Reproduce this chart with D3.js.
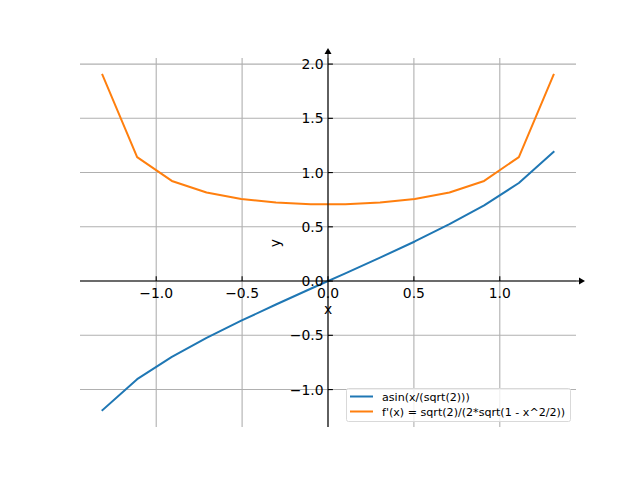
<!DOCTYPE html>
<html>
<head>
<meta charset="utf-8">
<script src="https://cdn.jsdelivr.net/npm/d3@7"></script>
<style>
body{margin:0;background:#fff;}
svg{display:block;font-family:"DejaVu Sans",sans-serif;}
</style>
</head>
<body>
<svg id="chart" width="640" height="480"></svg>
<script>
const xValues = [-1.313, -1.111, -0.909, -0.707, -0.505, -0.303, -0.101, 0.101, 0.303, 0.505, 0.707, 0.909, 1.111, 1.313];
const asinValues = [-1.190, -0.904, -0.698, -0.524, -0.365, -0.216, -0.071, 0.071, 0.216, 0.365, 0.524, 0.698, 0.904, 1.190];
const derivValues = [1.901, 1.143, 0.923, 0.816, 0.757, 0.724, 0.709, 0.709, 0.724, 0.757, 0.816, 0.923, 1.143, 1.901];
const xTicks = [-1.0, -0.5, 0.0, 0.5, 1.0];
const yTicks = [-1.0, -0.5, 0.0, 0.5, 1.0, 1.5, 2.0];
const seriesNames = ["asin(x/(sqrt(2)))", "f'(x) = sqrt(2)/(2*sqrt(1 - x^2/2))"];
const seriesColors = ["#1f77b4", "#ff7f0e"];

const svg = d3.select("#chart");
const L = 80, R = 576, T = 58, B = 427;
const x = d3.scaleLinear().domain([-1.4436, 1.4436]).range([L, R]);
const y = d3.scaleLinear().domain([-1.345, 2.056]).range([B, T]);
const fmt = v => (v < 0 ? "\u2212" : "") + Math.abs(v).toFixed(1);

// grid
const grid = svg.append("g");
grid.selectAll(".gx").data(xTicks).enter().append("line")
  .attr("x1", d => x(d)).attr("x2", d => x(d)).attr("y1", T).attr("y2", B)
  .attr("stroke", "#b0b0b0").attr("stroke-width", 1.1);
grid.selectAll(".gy").data(yTicks).enter().append("line")
  .attr("y1", d => y(d)).attr("y2", d => y(d)).attr("x1", L).attr("x2", R)
  .attr("stroke", "#b0b0b0").attr("stroke-width", 1.1);

// lines
const line = d3.line().x(d => x(d[0])).y(d => y(d[1]));
[asinValues, derivValues].forEach((vals, i) => {
  svg.append("path")
    .datum(xValues.map((xv, j) => [xv, vals[j]]))
    .attr("d", line).attr("fill", "none")
    .attr("stroke", seriesColors[i]).attr("stroke-width", 2)
    .attr("stroke-linejoin", "round").attr("stroke-linecap", "square");
});

// spines through zero
const x0 = x(0), y0 = y(0);
svg.append("line").attr("x1", L).attr("x2", R + 6).attr("y1", y0).attr("y2", y0)
  .attr("stroke", "#000").attr("stroke-width", 1.1);
svg.append("line").attr("x1", x0).attr("x2", x0).attr("y1", B).attr("y2", T - 6)
  .attr("stroke", "#000").attr("stroke-width", 1.1);
// arrows
svg.append("path").attr("d", `M${R + 9},${y0} L${R + 3},${y0 - 3.5} L${R + 3},${y0 + 3.5} Z`).attr("fill", "#000");
svg.append("path").attr("d", `M${x0},${T - 10} L${x0 - 3.5},${T - 4} L${x0 + 3.5},${T - 4} Z`).attr("fill", "#000");

// ticks (direction in)
svg.selectAll(".tx").data(xTicks).enter().append("line")
  .attr("x1", d => x(d)).attr("x2", d => x(d)).attr("y1", y0).attr("y2", y0 - 4.9)
  .attr("stroke", "#000").attr("stroke-width", 1.1);
svg.selectAll(".ty").data(yTicks).enter().append("line")
  .attr("y1", d => y(d)).attr("y2", d => y(d)).attr("x1", x0).attr("x2", x0 + 4.9)
  .attr("stroke", "#000").attr("stroke-width", 1.1);

svg.selectAll(".lx").data(xTicks).enter().append("text")
  .attr("x", d => x(d)).attr("y", y0 + 17).attr("text-anchor", "middle")
  .attr("font-size", "13.9px").attr("fill", "#000").text(fmt);
svg.selectAll(".ly").data(yTicks).enter().append("text")
  .attr("x", x0 - 4.5).attr("y", d => y(d) + 5).attr("text-anchor", "end")
  .attr("font-size", "13.9px").attr("fill", "#000").text(fmt);

// axis labels
svg.append("text").attr("x", x0).attr("y", y0 + 33).attr("text-anchor", "middle")
  .attr("font-size", "13.9px").text("x");
svg.append("text").attr("transform", `translate(${x0 - 48},${y(0.35)}) rotate(-90)`)
  .attr("text-anchor", "middle").attr("font-size", "13.9px").text("y");

// legend
const lg = svg.append("g");
lg.append("rect").attr("x", 346.5).attr("y", 388.5).attr("width", 224).attr("height", 33).attr("rx", 2)
  .attr("fill", "#fff").attr("fill-opacity", 0.8).attr("stroke", "#d9d9d9").attr("stroke-width", 1);
seriesNames.forEach((n, i) => {
  const yy = 396.5 + i * 15;
  lg.append("line").attr("x1", 350).attr("x2", 373).attr("y1", yy).attr("y2", yy)
    .attr("stroke", seriesColors[i]).attr("stroke-width", 2);
  lg.append("text").attr("x", 382).attr("y", yy + 4).attr("font-size", "11.1px").attr("fill", "#000").text(n);
});
</script>
</body>
</html>
